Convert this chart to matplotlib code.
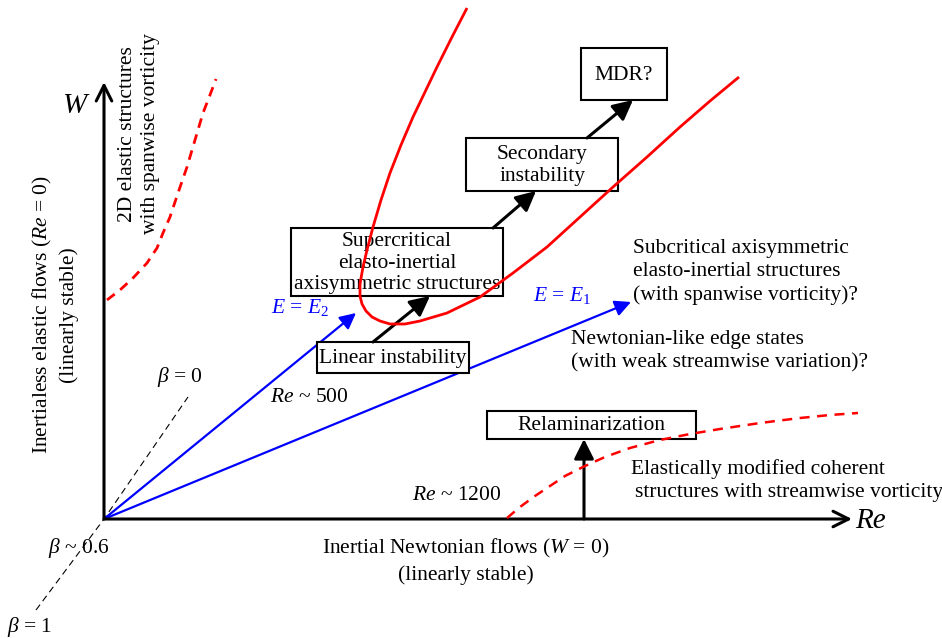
import matplotlib
matplotlib.use("Agg")
import matplotlib.pyplot as plt
from matplotlib.patches import Rectangle

plt.rcParams['font.family'] = 'Liberation Serif'
plt.rcParams['mathtext.fontset'] = 'custom'
plt.rcParams['mathtext.rm'] = 'Liberation Serif'
plt.rcParams['mathtext.it'] = 'Liberation Serif:italic'

# schematic coordinates (pixel space, y downwards)
origin = (104, 519)

# neutral stability curve of the elasto-inertial linear instability
neutral_x = [467, 452, 437, 425, 413, 401, 390, 381, 373, 367, 363, 360, 360, 362, 366, 372,
             380, 390, 405, 420, 447, 480, 513, 547, 580, 613, 647, 680, 710, 739]
neutral_y = [8, 37, 67, 92, 117, 145, 173, 200, 227, 250, 267, 284, 296, 304, 311, 317,
             321, 324, 324, 321, 313, 297, 273, 247, 217, 187, 157, 127, 101, 77]

# 2D elastic structures branch (Re small)
elastic_x = [107, 120, 133, 147, 157, 163, 170, 178, 187, 195, 203, 210, 216]
elastic_y = [300, 290, 278, 263, 248, 233, 217, 193, 167, 140, 113, 95, 79]

# elastically modified coherent structures branch
ems_x = [507, 520, 535, 550, 565, 585, 605, 630, 660, 690, 720, 760, 800, 830, 858]
ems_y = [518, 507, 496, 486, 476, 466, 457, 448, 440, 434, 429, 423, 418, 415, 413]

# beta line
beta_x = [36, 104, 188]
beta_y = [610, 519, 397]

# elasticity number rays E1, E2 (end points)
e2_end = (356, 313)
e1_end = (631, 302)

fig = plt.figure(figsize=(9.42, 6.38), dpi=100)
ax = fig.add_axes([0, 0, 1, 1])
ax.set_xlim(0, 942)
ax.set_ylim(638, 0)
ax.axis('off')

fs = 15.5

# axes of the diagram
ax.annotate("", xy=(104, 82), xytext=origin,
            arrowprops=dict(arrowstyle="->", lw=2.2, color="black", mutation_scale=28, shrinkA=0, shrinkB=0))
ax.annotate("", xy=(852, 519), xytext=origin,
            arrowprops=dict(arrowstyle="->", lw=2.2, color="black", mutation_scale=28, shrinkA=0, shrinkB=0))
ax.text(74, 106, "W", fontsize=21, style="italic", ha="center", va="center")
ax.text(870, 521, "Re", fontsize=21, style="italic", ha="center", va="center")

# beta line
ax.plot(beta_x, beta_y, color="black", lw=0.8, dashes=(6, 4), zorder=1)

# blue rays
for end in (e2_end, e1_end):
    ax.annotate("", xy=end, xytext=origin, zorder=1,
                arrowprops=dict(arrowstyle="-|>", lw=1.6, color="blue", mutation_scale=24,
                                shrinkA=0, shrinkB=0))

# red curves
ax.plot(neutral_x, neutral_y, color="red", lw=2.0, zorder=6, solid_capstyle="butt")
ax.plot(elastic_x, elastic_y, color="red", lw=2.0, dashes=(3.5, 2.5), zorder=6)
ax.plot(ems_x, ems_y, color="red", lw=1.8, dashes=(4, 3), zorder=6)

# boxes: (text, left, top, right, bottom)
boxes = [
    ("MDR?", 581, 48, 667, 100),
    ("Secondary\ninstability", 466, 138, 618, 191),
    ("Supercritical\nelasto-inertial\naxisymmetric structures", 291, 228, 503, 296),
    ("Linear instability", 317, 342, 469, 373),
    ("Relaminarization", 487, 411, 696, 439),
]
for label, l, t, r, b in boxes:
    ax.add_patch(Rectangle((l, t), r - l, b - t, facecolor="white", edgecolor="black",
                           lw=1.5, zorder=3))
    ax.text((l + r) / 2, (t + b) / 2 + 1, label, fontsize=fs, ha="center", va="center",
            linespacing=1.2, zorder=4)

# black transition arrows
black_arrows = [((373, 342), (430, 296)),
                ((493, 228), (536, 191)),
                ((587, 138), (633, 100)),
                ((584, 519), (584, 439))]
for start, end in black_arrows:
    ax.annotate("", xy=end, xytext=start, zorder=5,
                arrowprops=dict(arrowstyle="-|>", lw=2.2, color="black", mutation_scale=30,
                                shrinkA=0, shrinkB=0))

# labels
ax.text(139, 134, "2D elastic structures\nwith spanwise vorticity", fontsize=fs,
        rotation=90, ha="center", va="center", linespacing=1.3)
ax.text(55, 315, "Inertialess elastic flows ($Re$ = 0)\n(linearly stable)", fontsize=fs,
        rotation=90, ha="center", va="center", linespacing=1.3)
ax.text(466, 561, "Inertial Newtonian flows ($W$ = 0)\n(linearly stable)", fontsize=fs,
        ha="center", va="center", linespacing=1.3)
ax.text(180, 377, r"$\beta$ = 0", fontsize=fs, ha="center", va="center")
ax.text(79, 548, r"$\beta$ ~ 0.6", fontsize=fs, ha="center", va="center")
ax.text(30, 627, r"$\beta$ = 1", fontsize=fs, ha="center", va="center")
ax.text(309, 397, "$Re$ ~ 500", fontsize=fs, ha="center", va="center")
ax.text(457, 496, "$Re$ ~ 1200", fontsize=fs, ha="center", va="center")
ax.text(300, 308, "$E$ = $E_2$", fontsize=fs, color="blue", ha="center", va="center")
ax.text(562, 295, "$E$ = $E_1$", fontsize=fs, color="blue", ha="center", va="center")
ax.text(633, 272, "Subcritical axisymmetric\nelasto-inertial structures\n(with spanwise vorticity)?",
        fontsize=fs, ha="left", va="center", linespacing=1.3)
ax.text(571, 351, "Newtonian-like edge states\n(with weak streamwise variation)?",
        fontsize=fs, ha="left", va="center", linespacing=1.3)
ax.text(631, 469, "Elastically modified coherent", fontsize=fs, ha="left", va="center")
ax.text(635, 493, "structures with streamwise vorticity", fontsize=fs, ha="left", va="center")

fig.savefig("out.png", dpi=100)
